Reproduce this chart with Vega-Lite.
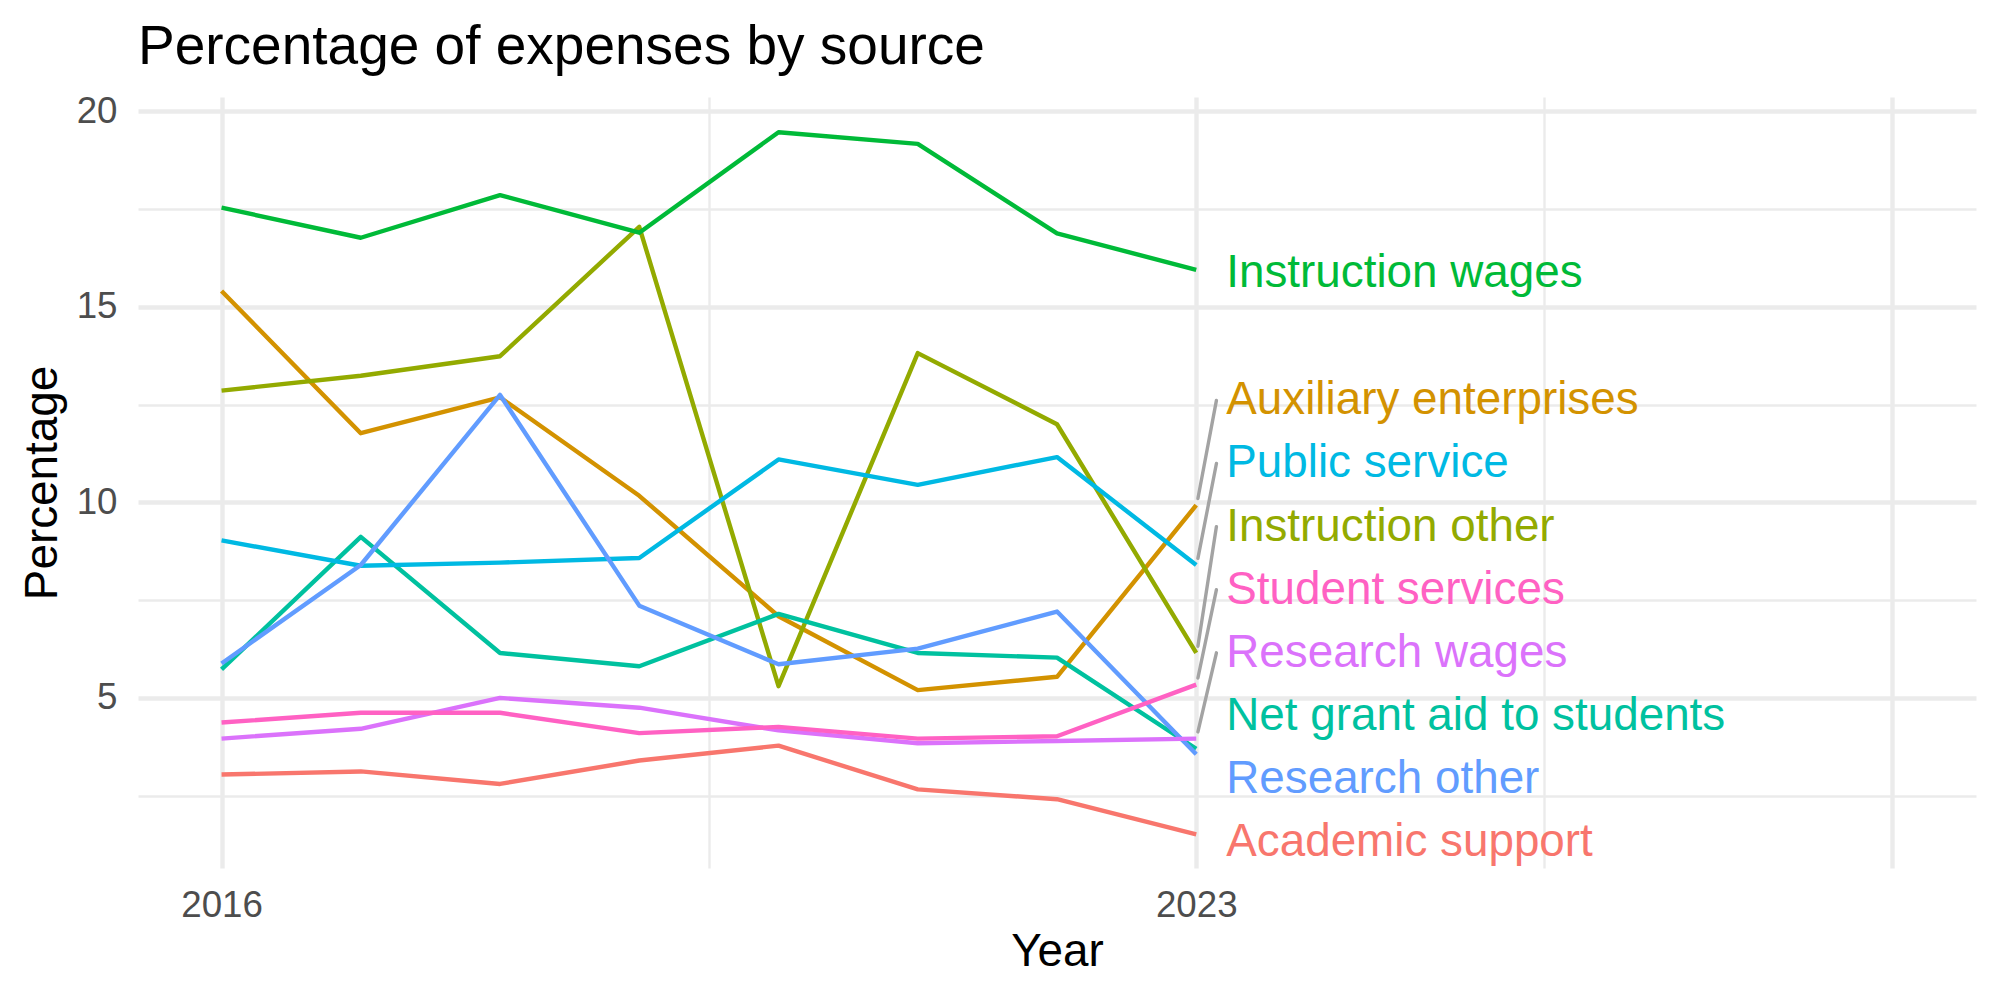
{
  "$schema": "https://vega.github.io/schema/vega-lite/v6.json",
  "autosize": {"type": "none"},
  "padding": {"left": 138, "top": 97, "right": 24, "bottom": 132},
  "width": 1838,
  "height": 771,
  "background": "white",
  "title": {
    "text": "Percentage of expenses by source",
    "anchor": "start",
    "frame": "group",
    "font": "Liberation Sans",
    "fontSize": 55,
    "fontWeight": "normal",
    "color": "#000000",
    "baseline": "alphabetic",
    "offset": -26
  },
  "config": {"view": {"stroke": null}, "font": "Liberation Sans"},
  "data": {
    "values": [
      {"source": "Academic support", "year": 2016, "value": 3.04},
      {"source": "Academic support", "year": 2017, "value": 3.12},
      {"source": "Academic support", "year": 2018, "value": 2.80},
      {"source": "Academic support", "year": 2019, "value": 3.40},
      {"source": "Academic support", "year": 2020, "value": 3.78},
      {"source": "Academic support", "year": 2021, "value": 2.66},
      {"source": "Academic support", "year": 2022, "value": 2.41},
      {"source": "Academic support", "year": 2023, "value": 1.51},
      {"source": "Auxiliary enterprises", "year": 2016, "value": 15.41},
      {"source": "Auxiliary enterprises", "year": 2017, "value": 11.77},
      {"source": "Auxiliary enterprises", "year": 2018, "value": 12.69},
      {"source": "Auxiliary enterprises", "year": 2019, "value": 10.17},
      {"source": "Auxiliary enterprises", "year": 2020, "value": 7.09},
      {"source": "Auxiliary enterprises", "year": 2021, "value": 5.20},
      {"source": "Auxiliary enterprises", "year": 2022, "value": 5.54},
      {"source": "Auxiliary enterprises", "year": 2023, "value": 9.93},
      {"source": "Instruction other", "year": 2016, "value": 12.86},
      {"source": "Instruction other", "year": 2017, "value": 13.24},
      {"source": "Instruction other", "year": 2018, "value": 13.74},
      {"source": "Instruction other", "year": 2019, "value": 17.05},
      {"source": "Instruction other", "year": 2020, "value": 5.30},
      {"source": "Instruction other", "year": 2021, "value": 13.82},
      {"source": "Instruction other", "year": 2022, "value": 12.00},
      {"source": "Instruction other", "year": 2023, "value": 6.15},
      {"source": "Instruction wages", "year": 2016, "value": 17.54},
      {"source": "Instruction wages", "year": 2017, "value": 16.77},
      {"source": "Instruction wages", "year": 2018, "value": 17.86},
      {"source": "Instruction wages", "year": 2019, "value": 16.90},
      {"source": "Instruction wages", "year": 2020, "value": 19.47},
      {"source": "Instruction wages", "year": 2021, "value": 19.17},
      {"source": "Instruction wages", "year": 2022, "value": 16.88},
      {"source": "Instruction wages", "year": 2023, "value": 15.95},
      {"source": "Net grant aid to students", "year": 2016, "value": 5.73},
      {"source": "Net grant aid to students", "year": 2017, "value": 9.12},
      {"source": "Net grant aid to students", "year": 2018, "value": 6.15},
      {"source": "Net grant aid to students", "year": 2019, "value": 5.81},
      {"source": "Net grant aid to students", "year": 2020, "value": 7.15},
      {"source": "Net grant aid to students", "year": 2021, "value": 6.15},
      {"source": "Net grant aid to students", "year": 2022, "value": 6.03},
      {"source": "Net grant aid to students", "year": 2023, "value": 3.70},
      {"source": "Public service", "year": 2016, "value": 9.03},
      {"source": "Public service", "year": 2017, "value": 8.38},
      {"source": "Public service", "year": 2018, "value": 8.46},
      {"source": "Public service", "year": 2019, "value": 8.58},
      {"source": "Public service", "year": 2020, "value": 11.10},
      {"source": "Public service", "year": 2021, "value": 10.45},
      {"source": "Public service", "year": 2022, "value": 11.16},
      {"source": "Public service", "year": 2023, "value": 8.40},
      {"source": "Research other", "year": 2016, "value": 5.88},
      {"source": "Research other", "year": 2017, "value": 8.40},
      {"source": "Research other", "year": 2018, "value": 12.75},
      {"source": "Research other", "year": 2019, "value": 7.36},
      {"source": "Research other", "year": 2020, "value": 5.86},
      {"source": "Research other", "year": 2021, "value": 6.26},
      {"source": "Research other", "year": 2022, "value": 7.21},
      {"source": "Research other", "year": 2023, "value": 3.56},
      {"source": "Research wages", "year": 2016, "value": 3.96},
      {"source": "Research wages", "year": 2017, "value": 4.21},
      {"source": "Research wages", "year": 2018, "value": 5.00},
      {"source": "Research wages", "year": 2019, "value": 4.75},
      {"source": "Research wages", "year": 2020, "value": 4.17},
      {"source": "Research wages", "year": 2021, "value": 3.84},
      {"source": "Research wages", "year": 2022, "value": 3.90},
      {"source": "Research wages", "year": 2023, "value": 3.96},
      {"source": "Student services", "year": 2016, "value": 4.37},
      {"source": "Student services", "year": 2017, "value": 4.62},
      {"source": "Student services", "year": 2018, "value": 4.62},
      {"source": "Student services", "year": 2019, "value": 4.10},
      {"source": "Student services", "year": 2020, "value": 4.26},
      {"source": "Student services", "year": 2021, "value": 3.96},
      {"source": "Student services", "year": 2022, "value": 4.02},
      {"source": "Student services", "year": 2023, "value": 5.34}
    ]
  },
  "encoding": {
    "color": {
      "field": "source",
      "type": "nominal",
      "legend": null,
      "scale": {
        "domain": ["Academic support", "Auxiliary enterprises", "Instruction other", "Instruction wages", "Net grant aid to students", "Public service", "Research other", "Research wages", "Student services"],
        "range": ["#F8766D", "#D39200", "#93AA00", "#00BA38", "#00C19F", "#00B9E3", "#619CFF", "#DB72FB", "#FF61C3"]
      }
    }
  },
  "layer": [
    {
      "mark": {"type": "line", "strokeWidth": 4.4, "strokeJoin": "round", "strokeCap": "butt"},
      "encoding": {
        "x": {
          "field": "year",
          "type": "quantitative",
          "scale": {"domain": [2015.4, 2028.6], "nice": false, "zero": false},
          "axis": {
            "values": [2016, 2019.5, 2023, 2025.5, 2028],
            "labelExpr": "datum.value == 2016 || datum.value == 2023 ? '' + datum.value : ''",
            "grid": true,
            "gridColor": "#EBEBEB",
            "gridWidth": {"condition": {"test": "datum.value == 2019.5 || datum.value == 2025.5", "value": 2.4}, "value": 4.4},
            "domain": false,
            "ticks": false,
            "tickSize": 0,
            "labelPadding": 19,
            "labelFlush": false,
            "labelOverlap": false,
            "labelFont": "Liberation Sans",
            "labelFontSize": 36.7,
            "labelColor": "#4D4D4D",
            "title": "Year",
            "titleFont": "Liberation Sans",
            "titleFontSize": 45.8,
            "titleFontWeight": "normal",
            "titleColor": "#000000",
            "titlePadding": 6
          }
        },
        "y": {
          "field": "value",
          "type": "quantitative",
          "scale": {"domain": [0.65, 20.37], "nice": false, "zero": false},
          "axis": {
            "values": [2.5, 5, 7.5, 10, 12.5, 15, 17.5, 20],
            "labelExpr": "datum.value % 5 == 0 ? '' + datum.value : ''",
            "grid": true,
            "gridColor": "#EBEBEB",
            "gridWidth": {"condition": {"test": "datum.value % 5 != 0", "value": 2.4}, "value": 4.4},
            "domain": false,
            "ticks": false,
            "tickSize": 0,
            "labelPadding": 21,
            "labelFlush": false,
            "labelOverlap": false,
            "labelFont": "Liberation Sans",
            "labelFontSize": 36.7,
            "labelColor": "#4D4D4D",
            "title": "Percentage",
            "titleFont": "Liberation Sans",
            "titleFontSize": 45.8,
            "titleFontWeight": "normal",
            "titleColor": "#000000",
            "titlePadding": 10
          }
        },
        "detail": {"field": "source"}
      }
    },
    {
      "transform": [
        {"filter": "datum.year == 2023"},
        {"window": [{"op": "row_number", "as": "rank"}], "sort": [{"field": "value", "order": "descending"}]},
        {"calculate": "datum.rank == 1 ? datum.value - 0.07 : 12.61 - (datum.rank - 2) * 1.614", "as": "label_y"},
        {"filter": "abs(datum.label_y - datum.value) > 1.5"},
        {"calculate": "datum.value + 0.17", "as": "seg_start"},
        {"calculate": "datum.label_y + 0.0", "as": "seg_end"}
      ],
      "mark": {"type": "rule", "color": "#A3A3A3", "strokeWidth": 3.4, "strokeCap": "round"},
      "encoding": {
        "x": {"datum": 2023.012, "type": "quantitative"},
        "x2": {"datum": 2023.145},
        "y": {"field": "seg_start", "type": "quantitative"},
        "y2": {"field": "seg_end"},
        "color": {"value": "#A3A3A3"}
      }
    },
    {
      "transform": [
        {"filter": "datum.year == 2023"},
        {"window": [{"op": "row_number", "as": "rank"}], "sort": [{"field": "value", "order": "descending"}]},
        {"calculate": "datum.rank == 1 ? datum.value - 0.07 : 12.61 - (datum.rank - 2) * 1.614", "as": "label_y"}
      ],
      "mark": {"type": "text", "align": "left", "baseline": "middle", "dx": 30, "fontSize": 45.8, "font": "Liberation Sans"},
      "encoding": {
        "x": {"field": "year", "type": "quantitative"},
        "y": {"field": "label_y", "type": "quantitative"},
        "text": {"field": "source"}
      }
    }
  ]
}
